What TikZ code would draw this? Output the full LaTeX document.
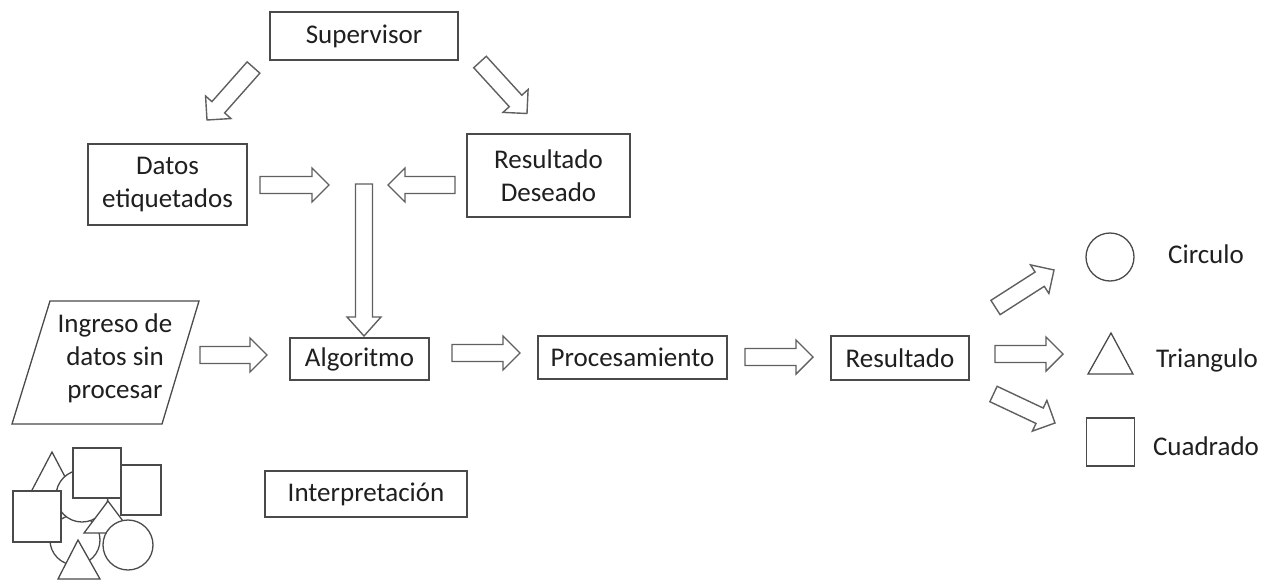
\documentclass[tikz,border=0pt]{standalone}
\usepackage{fontspec}
\setmainfont{Carlito}
\usetikzlibrary{calc}
\definecolor{boxc}{HTML}{4A4A4A}
\definecolor{arrc}{HTML}{606060}
\definecolor{txt}{HTML}{1F1F1F}
\tikzset{
  boxnode/.style={draw=boxc, line width=1.3pt, fill=white, inner sep=0pt, align=center, text=txt, font=\fontsize{27}{33}\selectfont},
  lbl/.style={text=txt, font=\fontsize{27}{33}\selectfont, inner sep=0pt, anchor=base},
  arrowline/.style={draw=arrc, line width=1.4pt, fill=white, line join=miter},
  shapeline/.style={draw=boxc, line width=1.3pt, fill=white},
}
\newcommand{\barrow}[3][17pt]{%
  \coordinate (tmpN) at ($(#3)!#1!(#2)$);
  \draw[arrowline] ($(#2)!8.5pt!90:(#3)$) -- ($(tmpN)!8.5pt!90:(#3)$) -- ($(tmpN)!17pt!90:(#3)$) -- (#3)
    -- ($(tmpN)!17pt!-90:(#3)$) -- ($(tmpN)!8.5pt!-90:(#3)$) -- ($(#2)!8.5pt!-90:(#3)$) -- cycle;
}
\begin{document}
\begin{tikzpicture}[x=1pt,y=-1pt]
\useasboundingbox (0,0) rectangle (1270,581);

% boxes
\node[boxnode, minimum width=188pt, minimum height=48pt] (sup) at (364,36) {Supervisor};
\node[boxnode, minimum width=159pt, minimum height=81pt] (datos) at (167.5,184.5) {Datos\\etiquetados};
\node[boxnode, minimum width=163pt, minimum height=83pt] (resdes) at (548.5,175.5) {Resultado\\Deseado};
\node[boxnode, minimum width=139pt, minimum height=42pt] (alg) at (359.5,359) {Algoritmo};
\node[boxnode, minimum width=189pt, minimum height=43pt] (proc) at (632.5,357.5) {Procesamiento};
\node[boxnode, minimum width=138pt, minimum height=44pt] (res) at (900,358) {Resultado};
\node[boxnode, minimum width=202pt, minimum height=46pt] (interp) at (366,494) {Interpretación};

% input parallelogram
\draw[shapeline] (50,301) -- (199,301) -- (162,424) -- (12,424) -- cycle;
\node[align=center, text=txt, font=\fontsize{27}{33}\selectfont, inner sep=0pt] (ingreso) at (115,358) {Ingreso de\\datos sin\\procesar};

% output shapes and labels
\node[draw=boxc, line width=1.3pt, fill=white, circle, minimum size=48pt, inner sep=0pt] (circ) at (1110,257) {};
\draw[shapeline] (1111,333) -- (1133,374) -- (1088,374) -- cycle;
\node[draw=boxc, line width=1.3pt, fill=white, minimum size=48pt, inner sep=0pt] (sq) at (1110.5,442) {};
\node[lbl] (lcirc) at (1206,263) {Circulo};
\node[lbl] (ltri) at (1207,367) {Triangulo};
\node[lbl] (lsq) at (1206,455) {Cuadrado};

% block arrow end points
\coordinate (a1s) at (253.5,67.5);  \coordinate (a1t) at (207,120);
\coordinate (a2s) at (480,62);      \coordinate (a2t) at (527,113.5);
\coordinate (a3s) at (260,185);     \coordinate (a3t) at (329,185);
\coordinate (a4s) at (455,185);     \coordinate (a4t) at (388,185);
\coordinate (a5s) at (364,184);     \coordinate (a5t) at (364,336);
\coordinate (a6s) at (200,355);     \coordinate (a6t) at (267,355);
\coordinate (a7s) at (452,353);     \coordinate (a7t) at (520,353);
\coordinate (a8s) at (745,357);     \coordinate (a8t) at (813,357);
\coordinate (a9s) at (995,354);     \coordinate (a9t) at (1063,354);
\coordinate (a10s) at (995.5,307.5); \coordinate (a10t) at (1054,270);
\coordinate (a11s) at (993.5,394);  \coordinate (a11t) at (1055,423);

\barrow{a1s}{a1t}
\barrow{a2s}{a2t}
\barrow{a3s}{a3t}
\barrow{a4s}{a4t}
\barrow[19pt]{a5s}{a5t}
\barrow{a6s}{a6t}
\barrow{a7s}{a7t}
\barrow{a8s}{a8t}
\barrow{a9s}{a9t}
\barrow{a10s}{a10t}
\barrow{a11s}{a11t}

% cluster of raw shapes
\draw[shapeline] (75,540) circle[radius=25];
\draw[shapeline] (52,452) -- (73,492) -- (31,492) -- cycle;
\draw[shapeline] (82,496) circle[radius=26];
\draw[shapeline] (121,465) rectangle (161,515);
\draw[shapeline] (73,448) rectangle (121,498);
\draw[shapeline] (13,491) rectangle (61,542);
\draw[shapeline] (108,501) -- (132,533) -- (84,533) -- cycle;
\draw[shapeline] (128,545) circle[radius=25];
\draw[shapeline] (78,540) -- (100,579) -- (58,579) -- cycle;
\end{tikzpicture}
\end{document}
